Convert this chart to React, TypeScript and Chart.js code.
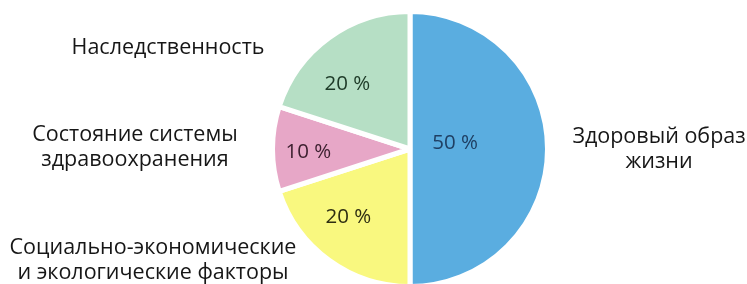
import React, { useEffect, useRef } from "react";
import { Chart, registerables } from "chart.js";

Chart.register(...registerables);

const categories = [
  "Здоровый образ жизни",
  "Социально-экономические и экологические факторы",
  "Состояние системы здравоохранения",
  "Наследственность",
];
const values = [50, 20, 10, 20];
const percentLabels = ["50 %", "20 %", "10 %", "20 %"];
const outerLabelLines = [
  ["Здоровый образ", "жизни"],
  ["Социально-экономические", "и экологические факторы"],
  ["Состояние системы", "здравоохранения"],
  ["Наследственность"],
];

const sliceColors = ["#5aade0", "#f9f87f", "#e7a7c7", "#b6dfc5"];
const percentColors = ["#1f3f63", "#2e2e12", "#3b1f2e", "#1d3a27"];
const labelRadius = [0.33, 0.67, 0.74, 0.655];
const labelAngleShiftDeg = [-7, 6, -2, -8];
const outerLabelPos = [
  { x: 659, y: 137 },
  { x: 153, y: 248 },
  { x: 135, y: 135 },
  { x: 168, y: 48 },
];

const FONT = '"Open Sans", "Noto Sans", sans-serif';

const labelPlugin = {
  id: "sliceLabels",
  afterDatasetsDraw(chart: any) {
    const ctx = chart.ctx;
    const meta = chart.getDatasetMeta(0);
    ctx.save();
    ctx.textAlign = "center";
    ctx.textBaseline = "middle";
    meta.data.forEach((arc: any, i: number) => {
      const p = arc.getProps(["x", "y", "startAngle", "endAngle", "outerRadius"], true);
      const mid = (p.startAngle + p.endAngle) / 2 + (labelAngleShiftDeg[i] * Math.PI) / 180;
      const r = p.outerRadius * labelRadius[i];
      ctx.fillStyle = percentColors[i];
      ctx.font = `20.5px ${FONT}`;
      ctx.fillText(percentLabels[i], p.x + Math.cos(mid) * r, p.y + Math.sin(mid) * r);
      ctx.fillStyle = "#161616";
      ctx.font = `21.5px ${FONT}`;
      const lines = outerLabelLines[i];
      lines.forEach((line, j) => {
        ctx.fillText(line, outerLabelPos[i].x, outerLabelPos[i].y + j * 24.5);
      });
    });
    ctx.restore();
  },
};

export default function App() {
  const ref = useRef<HTMLCanvasElement | null>(null);
  useEffect(() => {
    if (!ref.current) return;
    const chart = new Chart(ref.current, {
      type: "pie",
      data: {
        labels: categories,
        datasets: [
          {
            data: values,
            backgroundColor: sliceColors,
            borderColor: "#ffffff",
            borderWidth: 5,
          },
        ],
      },
      options: {
        responsive: false,
        animation: false,
        layout: { padding: { left: 73, right: 0, top: 9, bottom: 11 } },
        plugins: {
          legend: { display: false },
          tooltip: { enabled: false },
        },
      },
      plugins: [labelPlugin],
    });
    return () => chart.destroy();
  }, []);
  return (
    <div style={{ position: "fixed", left: 0, top: 0, width: 747, height: 284, overflow: "hidden", background: "#fff" }}>
      <canvas ref={ref} width={747} height={300} />
    </div>
  );
}
